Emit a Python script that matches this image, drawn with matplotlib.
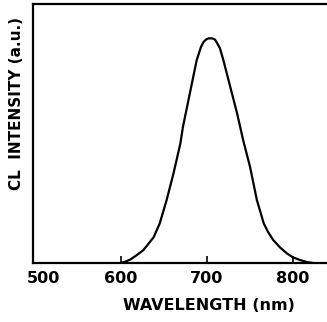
import matplotlib
matplotlib.use('Agg')
from matplotlib import pyplot as plt
from matplotlib.transforms import ScaledTranslation

# CL spectrum (intensity in arbitrary units)
wavelength = [599, 605, 611, 618, 626, 632, 638, 645, 653, 661, 669, 672, 680,
              688, 693, 696, 699, 702, 706, 709, 711, 715, 719, 727, 735,
              742, 750, 758, 766, 771, 777, 785, 793, 800, 808, 816, 824]
intensity = [0.0, 0.005, 0.014, 0.03, 0.05, 0.075, 0.10, 0.153, 0.243, 0.346,
             0.462, 0.526, 0.655, 0.784, 0.835, 0.854, 0.864, 0.868, 0.868,
             0.864, 0.854, 0.83, 0.784, 0.681, 0.578, 0.475, 0.372, 0.243,
             0.153, 0.12, 0.089, 0.06, 0.037, 0.022, 0.012, 0.004, 0.0]

tick_pos = [500, 600, 700, 800]
tick_text = ['500', '600', '700', '800']

fig = plt.figure(figsize=(3.27, 3.22), dpi=100)
ax = fig.add_axes([0.101, 0.183, 0.899, 0.804])

ax.plot(wavelength, intensity, color='black', lw=1.6)

ax.set_xlim(497.7, 839.5)
ax.set_ylim(0, 1)

for side in ['left', 'bottom', 'top']:
    ax.spines[side].set_linewidth(1.6)
ax.spines['right'].set_visible(False)

ax.set_xticks(tick_pos)
ax.set_xticklabels(tick_text, fontsize=11.5, fontweight='bold')
ax.tick_params(axis='x', direction='in', length=5, width=1.2, pad=6)
ax.set_yticks([])

# no mark at 500, and its label sits a little right of the corner
ax.xaxis.get_major_ticks()[0].tick1line.set_visible(False)
first = ax.get_xticklabels()[0]
first.set_transform(first.get_transform() + ScaledTranslation(8 / 100, 0, fig.dpi_scale_trans))

ax.set_xlabel('WAVELENGTH (nm)', fontsize=11.5, fontweight='bold')
ax.set_ylabel('CL  INTENSITY (a.u.)', fontsize=11, fontweight='bold')
ax.yaxis.set_label_coords(-0.031, 0.618)
ax.xaxis.set_label_coords(0.6, -0.135)

fig.savefig('out.png', dpi=100)
